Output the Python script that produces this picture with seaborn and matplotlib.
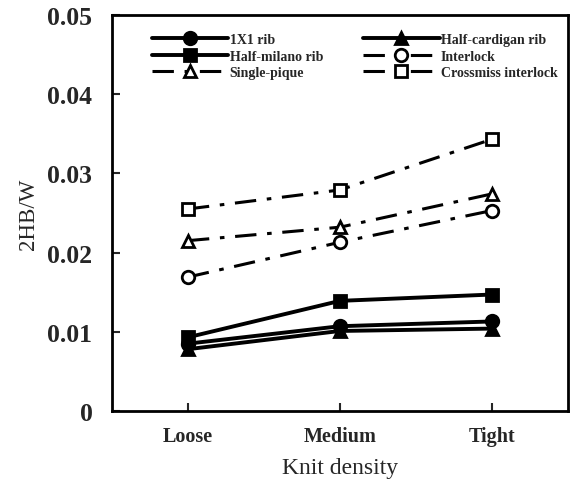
import matplotlib
matplotlib.use("Agg")
import matplotlib.pyplot as plt
import seaborn as sns
import pandas as pd

densities = ["Loose", "Medium", "Tight"]
rib_1x1 = [0.0085, 0.0107, 0.0113]
half_cardigan = [0.0078, 0.0101, 0.0104]
half_milano = [0.0093, 0.0139, 0.0147]
interlock = [0.0169, 0.0213, 0.0253]
single_pique = [0.0215, 0.0232, 0.0274]
crossmiss = [0.0255, 0.0279, 0.0343]

sns.set_theme(style="ticks")
plt.rcParams['font.family'] = ['Liberation Serif', 'DejaVu Serif']

fig = plt.figure(figsize=(5.74, 4.81), dpi=100)
ax = fig.add_axes([0.195, 0.1435, 0.7945, 0.8235])

dash = (0, (7, 3.5, 1.5, 3.5))
series = [
    ("1X1 rib", rib_1x1, "o", "-", "black"),
    ("Half-milano rib", half_milano, "s", "-", "black"),
    ("Single-pique", single_pique, "^", dash, "white"),
    ("Half-cardigan rib", half_cardigan, "^", "-", "black"),
    ("Interlock", interlock, "o", dash, "white"),
    ("Crossmiss interlock", crossmiss, "s", dash, "white"),
]
for name, vals, mk, ls, fc in series:
    df = pd.DataFrame({"Knit density": densities, "val": vals})
    sns.lineplot(data=df, x="Knit density", y="val", ax=ax, marker=mk,
                 linestyle=ls, color="black", markerfacecolor=fc,
                 markeredgecolor="black", markeredgewidth=2, markersize=9,
                 linewidth=2.8 if ls == "-" else 2.2, label=name)

ax.set_xlim(-0.5, 2.5)
ax.set_ylim(0, 0.05)
ax.set_yticks([0, 0.01, 0.02, 0.03, 0.04, 0.05])
ax.set_yticklabels(["0", "0.01", "0.02", "0.03", "0.04", "0.05"])
ax.tick_params(direction="in", length=6, width=1.5)
ax.tick_params(axis="y", labelsize=18.5, pad=14)
ax.tick_params(axis="x", labelsize=14.5, pad=11)
for lbl in ax.get_xticklabels() + ax.get_yticklabels():
    lbl.set_fontweight("bold")
ax.set_xlabel("Knit density", fontsize=17, labelpad=8)
ax.set_ylabel("2HB/W", fontsize=16.5, labelpad=6)
for sp in ax.spines.values():
    sp.set_linewidth(2)
    sp.set_color("black")

ax.legend(loc="upper left", bbox_to_anchor=(0.06, 0.985), ncol=2, frameon=False,
          handlelength=5.5, columnspacing=2.9, labelspacing=0.25,
          handletextpad=0.1, prop={"weight": "bold", "size": 10})

fig.savefig("out.png", dpi=100)
